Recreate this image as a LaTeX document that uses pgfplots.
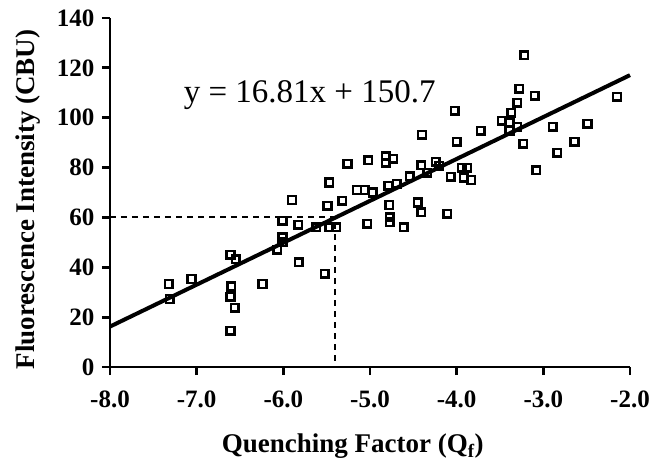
\documentclass[border=0pt]{standalone}
\usepackage{pgfplots}
\pgfplotsset{compat=1.18}
\usepackage{fontspec}
\setmainfont{Liberation Serif}
\pgfplotstableread{
x y
-7.32 33.3
-7.31 27.3
-7.06 35.3
-6.61 45
-6.55 43.3
-6.60 32.3
-6.61 28.2
-6.56 23.7
-6.61 14.5
-6.24 33.3
-6.07 47
-6.01 52
-6.01 50
-6.01 58.6
-5.90 67
-5.83 57
-5.82 42
-5.62 56
-5.52 37.4
-5.49 64.7
-5.47 74
-5.47 56
-5.39 56
-5.32 66.7
-5.26 81.5
-5.15 71
-5.06 71
-5.03 57.4
-5.02 83
-4.97 70
-4.82 84.5
-4.82 82
-4.79 72.7
-4.78 65
-4.77 60
-4.77 58
-4.73 83.5
-4.69 73.5
-4.61 56
-4.54 76.5
-4.45 66
-4.41 62
-4.41 81
-4.40 93.2
-4.34 78
-4.24 82.3
-4.20 80.7
-4.11 61.4
-4.07 76.3
-4.02 102.8
-4.00 90.4
-3.94 80
-3.92 76
-3.88 80
-3.83 75
-3.72 94.8
-3.48 98.8
-3.39 98
-3.39 94.8
-3.37 102
-3.30 106
-3.30 96.4
-3.28 111.6
-3.23 89.6
-3.22 125
-3.10 108.8
-3.08 79
-2.89 96.4
-2.84 86
-2.64 90.4
-2.49 97.6
-2.15 108.4
}\datatable
\begin{document}
\begin{tikzpicture}
\begin{axis}[
  name=main,
  scale only axis,
  width=520pt, height=349pt,
  xmin=-8, xmax=-2, ymin=0, ymax=140,
  axis x line*=bottom, axis y line*=left,
  axis line style={line width=2.8pt, -},
  xtick={-8,-7,-6,-5,-4,-3,-2},
  xticklabels={-8.0,-7.0,-6.0,-5.0,-4.0,-3.0,-2.0},
  ytick={0,20,40,60,80,100,120,140},
  tick align=outside,
  major tick length=8pt,
  every tick/.style={black, line width=2.8pt},
  /pgf/number format/assume math mode=true,
  ticklabel style={font=\fontsize{25}{28}\selectfont\bfseries},
  xticklabel style={yshift=-12pt},
  yticklabel style={xshift=-4pt},
  xlabel={Quenching Factor (Q\textsubscript{f})},
  ylabel={Fluorescence Intensity (CBU)},
  label style={font=\fontsize{27}{30}\selectfont\bfseries},
  xlabel style={at={(axis description cs:0.467,-0.246)}, anchor=base},
  ylabel style={at={(axis description cs:-0.158,0.48)}, anchor=center},
  clip=false,
]
\addplot[black, line width=2pt, dash pattern=on 6pt off 5pt] coordinates {(-8,60) (-5.4,60) (-5.4,0)};
\addplot[black, line width=4pt] coordinates {(-8,16.22) (-2,117.08)};
\addplot[only marks, mark=square, mark size=3.8pt, mark options={line width=2.5pt, black, fill=white}] table[x=x,y=y] {\datatable};
\node[font=\fontsize{33}{36}\selectfont, anchor=base west, inner sep=0pt] at (axis cs:-7.15,106.3) {y = 16.81x + 150.7};
\end{axis}
\pgfresetboundingbox
\path ([shift={(-110pt,-94pt)}]main.south west) rectangle ([shift={(19pt,18pt)}]main.north east);
\end{tikzpicture}
\end{document}
